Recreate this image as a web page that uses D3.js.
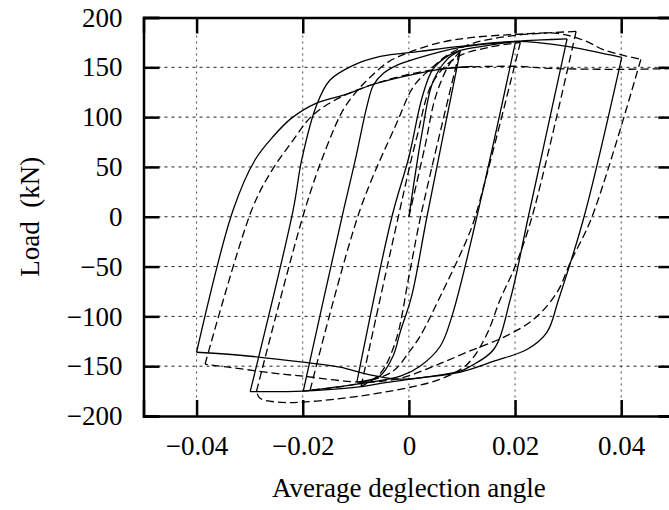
<!DOCTYPE html>
<html lang="en">
  <head>
    <meta charset="UTF-8" />
    <title>Load vs average deflection angle</title>
    <script src="https://d3js.org/d3.v7.min.js"></script>
    <style>
      body { margin: 0; background: #fff; }
      svg text { font-family: "Liberation Serif", "DejaVu Serif", serif; fill: #000; }
    </style>
  </head>
  <body>
    <div id="chart"></div>
    <script>
      // tick values
      const angleTicks = [-0.04, -0.02, 0, 0.02, 0.04];
      const loadTicks = [-200, -150, -100, -50, 0, 50, 100, 150, 200];

      // specimen 1 (solid line)
      const solidAngle = [0, 0.0025, 0.0045, 0.0072, 0.0097,
        0.0034, 0.0005, -0.0016, -0.003, -0.0055, -0.0098,
        -0.0032, 0.0, 0.0025, 0.0045, 0.0075, 0.0097, 0.015, 0.0201,
        0.0128, 0.0081, 0.0059, 0.0021, -0.0016, -0.0098, -0.0199,
        -0.0123, -0.0101, -0.0079, -0.0067, -0.0048, -0.0023, 0.0015, 0.0097, 0.0201, 0.025, 0.0298,
        0.0225, 0.0191, 0.016, 0.0116, 0.0097, 0.003, -0.005, -0.0098, -0.0199, -0.0299,
        -0.0218, -0.0202, -0.0174, -0.0149, -0.0105, -0.0054, 0.0021, 0.0097, 0.0204, 0.0298, 0.0374, 0.0401,
        0.033, 0.0282, 0.026, 0.0223, 0.016, 0.0097, 0.004, -0.0023, -0.0079, -0.013, -0.0199, -0.0318, -0.04,
        -0.0331, -0.029, -0.0255, -0.0221, -0.0174, -0.0117, -0.0067, 0.0009, 0.0072, 0.012];
      const solidLoad = [0, 85, 135, 158, 167,
        0, -80, -115, -140, -160, -166,
        0, 60, 120, 148, 162, 167, 172, 176,
        0, -100, -130, -150, -160, -168, -175,
        7, 57, 111, 132, 144, 152, 159, 170, 176, 177.5, 178.5,
        0, -83, -133, -150, -155, -161, -167, -171, -175, -175.5,
        7, 57, 112, 137, 152, 161, 166, 171, 176, 171, 163, 160,
        0, -83, -116, -133, -145, -156, -160.5, -163, -158, -151, -146, -139, -136,
        7, 57, 81, 99, 114, 123, 133, 143, 149, 151];

      // specimen 2 (dashed line)
      const dashedAngle = [0, 0.003, 0.005, 0.0075, 0.0095,
        0.0022, 0.0, -0.0025, -0.0055, -0.009,
        -0.002, 0.0015, 0.0045, 0.009, 0.015, 0.021,
        0.0125, 0.0109, 0.0059, 0.0021, 0.0, -0.003, -0.01, -0.0186,
        -0.0092, -0.0023, 0.0009, 0.004, 0.0075, 0.012, 0.02, 0.0315,
        0.0232, 0.02, 0.0172, 0.0145, 0.011, 0.0059, -0.0035, -0.0174, -0.0249, -0.0281, -0.0287,
        -0.0196, -0.0155, -0.0123, -0.0095, -0.0073, -0.004, 0.0, 0.006, 0.012, 0.02, 0.028, 0.033, 0.037, 0.0437,
        0.0345, 0.0304, 0.0279, 0.0235, 0.0178, 0.0109, 0.0047, -0.0016, -0.0086, -0.0199, -0.0255, -0.034, -0.0384,
        -0.0296, -0.0261, -0.0218, -0.0183, -0.0136, -0.0067, 0.0009, 0.0072, 0.0204, 0.0262, 0.0398, 0.052];
      const dashedLoad = [0, 70, 120, 152, 165,
        0, -60, -125, -158, -170,
        0, 80, 135, 160, 170, 175,
        0, -23, -80, -120, -136, -155, -168, -174,
        7, 94, 131, 148, 163, 174, 182, 186,
        0, -50, -83, -120, -148, -163, -175, -185, -186, -182, -175,
        7, 70, 108, 128, 140, 155, 165, 175, 180, 183, 184, 177, 167, 158,
        0, -46, -76, -103, -121, -136, -150, -162, -166, -160, -157, -151, -148,
        7, 44, 77, 101, 118, 133, 144, 149, 151, 149, 148, 149];

      const W = 669, H = 510;
      const margin = { top: 17.5, right: -5.3, bottom: 94, left: 143.5 };
      const width = W - margin.left - margin.right,
        height = H - margin.top - margin.bottom;

      const svg = d3.select("#chart").append("svg")
        .attr("width", W).attr("height", H);
      const g = svg.append("g")
        .attr("transform", `translate(${margin.left},${margin.top})`);

      const x = d3.scaleLinear().domain([-0.05, 0.05]).range([0, width]);
      const y = d3.scaleLinear().domain([-200, 200]).range([height, 0]);

      // grid
      g.append("g").selectAll("line")
        .data(angleTicks).join("line")
        .attr("x1", d => x(d)).attr("x2", d => x(d))
        .attr("y1", 0).attr("y2", height)
        .attr("stroke", "#444").attr("stroke-width", 1)
        .attr("stroke-dasharray", "2,4");
      g.append("g").selectAll("line")
        .data(loadTicks.slice(1, -1)).join("line")
        .attr("x1", 0).attr("x2", width)
        .attr("y1", d => y(d)).attr("y2", d => y(d))
        .attr("stroke", "#222").attr("stroke-width", 1)
        .attr("stroke-dasharray", "3,4");

      // split a series into half cycles where the angle turns round
      function branches(xs, ys) {
        const out = [];
        let cur = [[xs[0], ys[0]]], dir = 0;
        for (let i = 1; i < xs.length; i++) {
          const d = Math.sign(xs[i] - xs[i - 1]);
          if (dir !== 0 && d !== 0 && d !== dir) {
            out.push(cur);
            cur = [[xs[i - 1], ys[i - 1]]];
          }
          if (d !== 0) dir = d;
          cur.push([xs[i], ys[i]]);
        }
        out.push(cur);
        return out;
      }

      svg.append("defs").append("clipPath").attr("id", "plot-clip")
        .append("rect").attr("width", width).attr("height", height);

      const line = d3.line()
        .x(d => x(d[0])).y(d => y(d[1]))
        .curve(d3.curveCatmullRom.alpha(0.5));

      const curves = g.append("g").attr("clip-path", "url(#plot-clip)");
      curves.selectAll("path.dashed")
        .data(branches(dashedAngle, dashedLoad)).join("path")
        .attr("class", "dashed")
        .attr("d", line)
        .attr("fill", "none").attr("stroke", "#000")
        .attr("stroke-width", 1.3)
        .attr("stroke-dasharray", "8,4");
      curves.selectAll("path.solid")
        .data(branches(solidAngle, solidLoad)).join("path")
        .attr("class", "solid")
        .attr("d", line)
        .attr("fill", "none").attr("stroke", "#000")
        .attr("stroke-width", 1.3);

      // axes, ticks pointing inward on all four sides
      const fmtX = d => d === 0 ? "0" : d3.format(".2f")(d);
      g.append("g").attr("transform", `translate(0,${height})`)
        .call(d3.axisBottom(x).tickValues(angleTicks).tickSize(-16).tickPadding(20).tickFormat(fmtX));
      g.append("g")
        .call(d3.axisLeft(y).tickValues(loadTicks).tickSize(-16).tickPadding(21).tickFormat(d3.format("d")));
      g.append("g")
        .call(d3.axisTop(x).tickValues(angleTicks).tickSize(-16).tickFormat(""));
      g.append("g").attr("transform", `translate(${width},0)`)
        .call(d3.axisRight(y).tickValues(loadTicks).tickSize(-16).tickFormat(""));

      g.selectAll(".domain").attr("stroke", "#000").attr("stroke-width", 2.5);
      g.selectAll(".tick line").attr("stroke", "#000").attr("stroke-width", 2.5);
      g.selectAll(".tick text")
        .attr("font-family", "'Liberation Serif', serif")
        .attr("font-size", 27).attr("fill", "#000");

      svg.append("text")
        .attr("x", margin.left + x(0)).attr("y", 497)
        .attr("text-anchor", "middle").attr("font-size", 27)
        .text("Average deglection angle");
      svg.append("text")
        .attr("transform", `translate(39,${margin.top + y(0)}) rotate(-90)`)
        .attr("text-anchor", "middle").attr("font-size", 27)
        .text("Load\u00a0\u00a0(kN)");
    </script>
  </body>
</html>
